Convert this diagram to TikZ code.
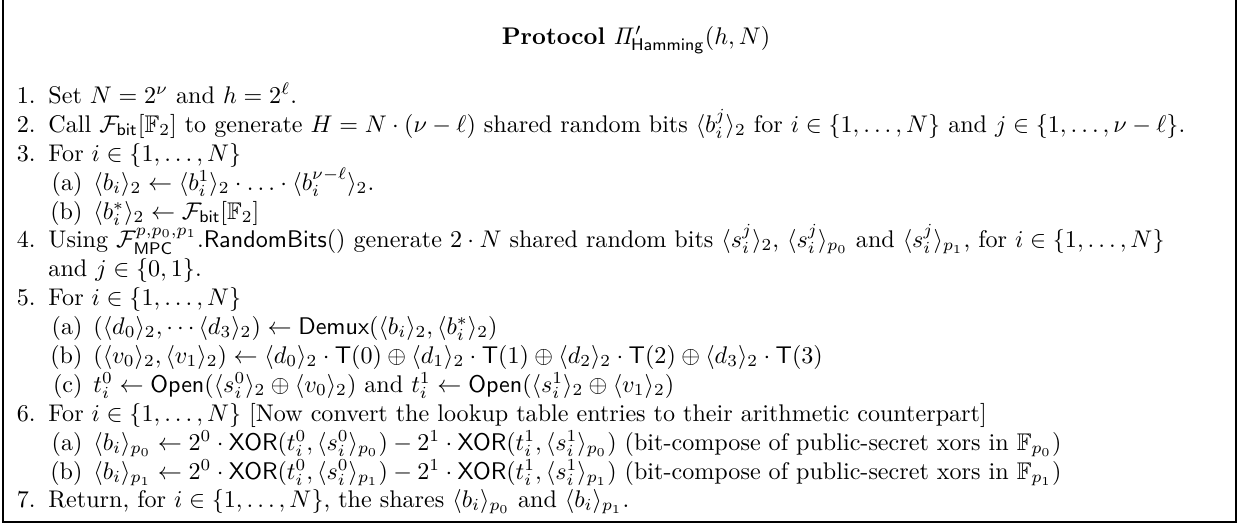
\documentclass[tikz,border=0pt]{standalone}
\usepackage{amsmath,amssymb}
\begin{document}
\begin{tikzpicture}[x=0.415pt,y=-0.415pt,
  lbl/.style={anchor=base east,inner sep=0pt},
  txt/.style={anchor=base west,inner sep=0pt},
  ttl/.style={anchor=base,inner sep=0pt}]
\useasboundingbox (0,0) rectangle (1241,525);
\draw[line width=0.8pt] (3,-3) rectangle (1236,522);
\node[ttl] (title) at (636,44) {\textbf{Protocol} $\mathit{\Pi}'_{\mathsf{Hamming}}(h,N)$};
% level 1
\node[lbl] (l1) at (36,103) {1.};
\node[txt] (t1) at (48,103) {Set $N=2^\nu$ and $h=2^\ell$.};
\node[lbl] (l2) at (36,132) {2.};
\node[txt] (t2) at (48,132) {Call $\mathcal{F}_{\mathsf{bit}}[\mathbb{F}_2]$ to generate $H=N\cdot(\nu-\ell)$ shared random bits $\langle b_i^j\rangle_2$ for $i\in\{1,\ldots,N\}$ and $j\in\{1,\ldots,\nu-\ell\}$.};
\node[lbl] (l3) at (36,161) {3.};
\node[txt] (t3) at (48,161) {For $i\in\{1,\ldots,N\}$};
\node[lbl] (l3a) at (83,190) {(a)};
\node[txt] (t3a) at (93,190) {$\langle b_i\rangle_2\leftarrow\langle b_i^1\rangle_2\cdot\ldots\cdot\langle b_i^{\nu-\ell}\rangle_2$.};
\node[lbl] (l3b) at (83,219) {(b)};
\node[txt] (t3b) at (93,219) {$\langle b_i^*\rangle_2\leftarrow\mathcal{F}_{\mathsf{bit}}[\mathbb{F}_2]$};
\node[lbl] (l4) at (36,247) {4.};
\node[txt] (t4) at (48,247) {Using $\mathcal{F}_{\mathsf{MPC}}^{p,p_0,p_1}.\mathsf{RandomBits}()$ generate $2\cdot N$ shared random bits $\langle s_i^j\rangle_2$, $\langle s_i^j\rangle_{p_0}$ and $\langle s_i^j\rangle_{p_1}$, for $i\in\{1,\ldots,N\}$};
\node[txt] (t4b) at (48,276) {and $j\in\{0,1\}$.};
\node[lbl] (l5) at (36,305) {5.};
\node[txt] (t5) at (48,305) {For $i\in\{1,\ldots,N\}$};
\node[lbl] (l5a) at (83,334) {(a)};
\node[txt] (t5a) at (93,334) {$(\langle d_0\rangle_2,\cdots\langle d_3\rangle_2)\leftarrow\mathsf{Demux}(\langle b_i\rangle_2,\langle b_i^*\rangle_2)$};
\node[lbl] (l5b) at (83,363) {(b)};
\node[txt] (t5b) at (93,363) {$(\langle v_0\rangle_2,\langle v_1\rangle_2)\leftarrow\langle d_0\rangle_2\cdot\mathsf{T}(0)\oplus\langle d_1\rangle_2\cdot\mathsf{T}(1)\oplus\langle d_2\rangle_2\cdot\mathsf{T}(2)\oplus\langle d_3\rangle_2\cdot\mathsf{T}(3)$};
\node[lbl] (l5c) at (83,392) {(c)};
\node[txt] (t5c) at (93,392) {$t_i^0\leftarrow\mathsf{Open}(\langle s_i^0\rangle_2\oplus\langle v_0\rangle_2)$ and $t_i^1\leftarrow\mathsf{Open}(\langle s_i^1\rangle_2\oplus\langle v_1\rangle_2)$};
\node[lbl] (l6) at (36,421) {6.};
\node[txt] (t6) at (48,421) {For $i\in\{1,\ldots,N\}$ [Now convert the lookup table entries to their arithmetic counterpart]};
\node[lbl] (l6a) at (83,450) {(a)};
\node[txt] (t6a) at (93,450) {$\langle b_i\rangle_{p_0}\leftarrow 2^0\cdot\mathsf{XOR}(t_i^0,\langle s_i^0\rangle_{p_0})-2^1\cdot\mathsf{XOR}(t_i^1,\langle s_i^1\rangle_{p_0})$ (bit-compose of public-secret xors in $\mathbb{F}_{p_0}$)};
\node[lbl] (l6b) at (83,479) {(b)};
\node[txt] (t6b) at (93,479) {$\langle b_i\rangle_{p_1}\leftarrow 2^0\cdot\mathsf{XOR}(t_i^0,\langle s_i^0\rangle_{p_1})-2^1\cdot\mathsf{XOR}(t_i^1,\langle s_i^1\rangle_{p_1})$ (bit-compose of public-secret xors in $\mathbb{F}_{p_1}$)};
\node[lbl] (l7) at (36,507) {7.};
\node[txt] (t7) at (48,507) {Return, for $i\in\{1,\ldots,N\}$, the shares $\langle b_i\rangle_{p_0}$ and $\langle b_i\rangle_{p_1}$.};
\end{tikzpicture}
\end{document}
